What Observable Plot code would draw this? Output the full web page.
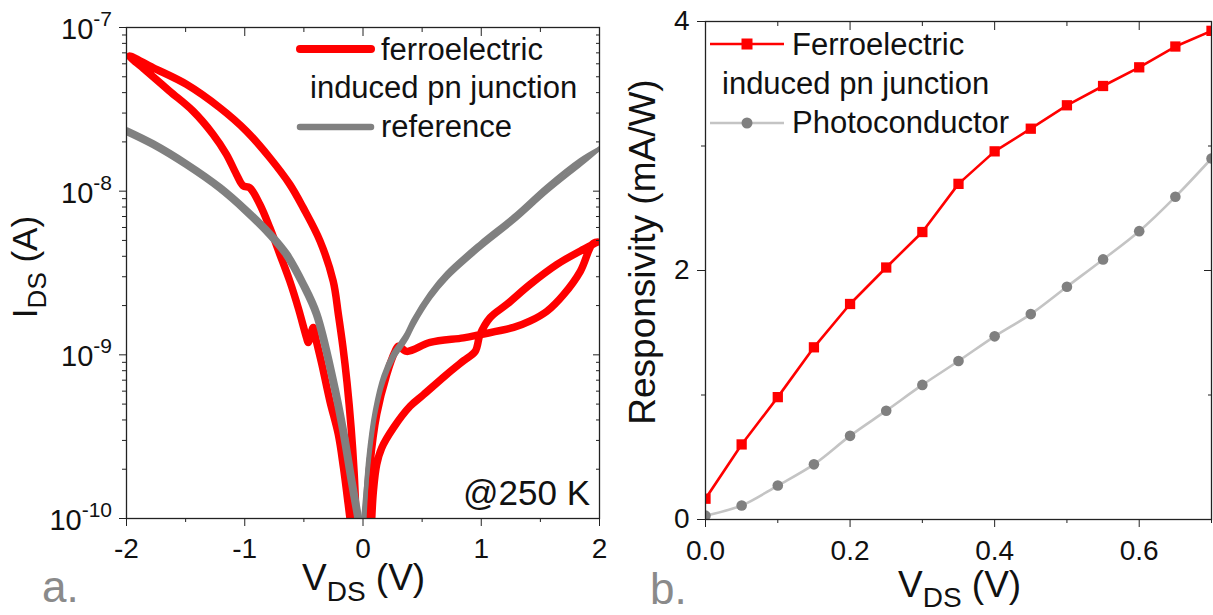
<!DOCTYPE html>
<html><head><meta charset="utf-8">
<script src="https://cdn.jsdelivr.net/npm/d3@7"></script>
<script src="https://cdn.jsdelivr.net/npm/@observablehq/plot@0.6"></script>
<style>
html,body{margin:0;padding:0;background:#fff;}
#page{position:relative;width:1213px;height:615px;overflow:hidden;}
#page svg{position:absolute;top:0;}
text{white-space:pre;}
</style></head><body><div id="page"></div>
<script>
// ---------- Panel a: I-V curves (log scale) ----------
// Ferroelectric-induced pn junction, negative sweep loop (V, A)
const ferroNegV = [-0.058,-0.075,-0.10,-0.135,-0.17,-0.209,-0.252,-0.364,-0.506,-0.619,-0.788,-0.986,-1.212,-1.494,-1.777,-1.975,
  -1.833,-1.636,-1.438,-1.269,-1.155,-1.071,-1.014,-0.958,-0.873,-0.788,-0.703,-0.619,-0.548,-0.477,-0.463,-0.421,-0.40,-0.35,-0.28,-0.209,-0.165,-0.125,-0.11];
const ferroNegI = [1.0e-10,1.91e-10,3.55e-10,6.76e-10,1.12e-9,1.78e-9,2.82e-9,4.97e-9,7.93e-9,1.10e-8,1.60e-8,2.33e-8,3.24e-8,4.50e-8,5.69e-8,6.70e-8,
  5.43e-8,4.09e-8,3.09e-8,2.23e-8,1.68e-8,1.27e-8,1.08e-8,1.05e-8,8.32e-9,5.98e-9,4.11e-9,2.82e-9,1.94e-9,1.27e-9,1.19e-9,1.47e-9,1.26e-9,8.9e-10,5.22e-10,3.27e-10,2.04e-10,1.22e-10,1.0e-10];
// Ferroelectric-induced pn junction, positive sweep loop
const ferroPosV = [0.03,0.059,0.116,0.201,0.271,0.30,0.37,0.568,0.85,0.992,1.274,1.415,1.557,1.698,1.839,1.938,1.985,
  1.839,1.641,1.415,1.218,1.076,0.99,0.949,0.85,0.709,0.511,0.398,0.257,0.158,0.116,0.088,0.074];
const ferroPosI = [1.0e-10,2.14e-10,4.33e-10,7.6e-10,1.05e-9,1.13e-9,1.05e-9,1.19e-9,1.27e-9,1.33e-9,1.47e-9,1.61e-9,1.85e-9,2.34e-9,3.25e-9,4.73e-9,4.9e-9,
  4.31e-9,3.57e-9,2.70e-9,2.04e-9,1.69e-9,1.33e-9,1.05e-9,9.2e-10,7.6e-10,5.7e-10,4.85e-10,3.58e-10,2.7e-10,2.14e-10,1.47e-10,1.0e-10];
// Reference device
const refNegV = [-2.0,-1.777,-1.494,-1.212,-0.986,-0.788,-0.647,-0.506,-0.392,-0.252,-0.167,-0.096,-0.04];
const refNegI = [2.33e-8,1.94e-8,1.46e-8,1.05e-8,7.57e-9,5.46e-9,4.11e-9,2.70e-9,1.77e-9,6.92e-10,3.42e-10,1.69e-10,1.0e-10];
const refPosFwdV = [0.003,0.045,0.102,0.172,0.257,0.314,0.370,0.426,0.568,0.709,0.992,1.274,1.557,1.839,2.0];
const refPosFwdI = [1.0e-10,2.14e-10,4.33e-10,6.92e-10,9.59e-10,1.10e-9,1.27e-9,1.53e-9,2.23e-9,2.96e-9,4.52e-9,6.58e-9,1.00e-8,1.46e-8,1.82e-8];
const refPosRevV = [2.0,1.839,1.557,1.274,0.992,0.709,0.568,0.426,0.370,0.314,0.257,0.172,0.102,0.045,0.012];
const refPosRevI = [1.82e-8,1.55e-8,1.07e-8,7.0e-9,4.8e-9,3.15e-9,2.37e-9,1.63e-9,1.35e-9,1.17e-9,1.02e-9,7.4e-10,4.6e-10,2.3e-10,1.0e-10];

const xTicksA = [-2,-1,0,1,2];
const xMinorA = [-1.5,-0.5,0.5,1.5];
const yExpA = [-10,-9,-8,-7];

// ---------- Panel b: responsivity ----------
const vdsB = [0,0.05,0.1,0.15,0.2,0.25,0.3,0.35,0.4,0.45,0.5,0.55,0.6,0.65,0.7];
const respFerro = [0.167,0.603,0.983,1.383,1.731,2.024,2.309,2.696,2.957,3.139,3.327,3.482,3.632,3.799,3.925];
const respPhoto = [0.031,0.113,0.273,0.443,0.672,0.874,1.081,1.273,1.471,1.650,1.870,2.089,2.316,2.592,2.900];
const xTicksB = [0,0.2,0.4,0.6];
const xMinorB = [0.1,0.3,0.5,0.7];
const yTicksB = [0,2,4];
const yMinorB = [1,3];

const RED = "#ff0000", GRAY = "#808080", LGRAY = "#c4c4c4", INK = "#111111", LABEL = "#8a8a8a";
const FONT = '"Liberation Sans", Arial, Helvetica, sans-serif';

const zip = (V, I) => V.map((v, k) => ({v, i: I[k]}));
const ferroNeg = zip(ferroNegV, ferroNegI);
const ferroPos = zip(ferroPosV, ferroPosI);
const refNeg = zip(refNegV, refNegI);
const refPosF = zip(refPosFwdV, refPosFwdI);
const refPosR = zip(refPosRevV, refPosRevI);
const yMajorA = yExpA.map(e => Math.pow(10, e));
const yMinorA = [];
yExpA.slice(0, -1).forEach(e => { for (let m = 2; m <= 9; m++) yMinorA.push(m * Math.pow(10, e)); });

const page = document.getElementById("page");
const none = () => "";

const left = Plot.plot({
  width: 610, height: 615,
  marginLeft: 126, marginRight: 11, marginTop: 27, marginBottom: 97,
  style: {fontFamily: FONT, fontSize: "28px", color: INK, background: "transparent", overflow: "visible"},
  x: {domain: [-2, 2], label: null},
  y: {type: "log", domain: [1e-10, 1e-7], label: null},
  marks: [
    Plot.line(ferroNeg, {x: "v", y: "i", stroke: RED, strokeWidth: 7.5, strokeLinejoin: "round", strokeLinecap: "round", curve: "catmull-rom", clip: true}),
    Plot.line(ferroPos, {x: "v", y: "i", stroke: RED, strokeWidth: 7.5, strokeLinejoin: "round", strokeLinecap: "round", curve: "catmull-rom", clip: true}),
    Plot.line(refNeg, {x: "v", y: "i", stroke: GRAY, strokeWidth: 8, strokeLinejoin: "round", curve: "catmull-rom", clip: true}),
    Plot.line(refPosF, {x: "v", y: "i", stroke: GRAY, strokeWidth: 4.4, curve: "catmull-rom", clip: true}),
    Plot.line(refPosR, {x: "v", y: "i", stroke: GRAY, strokeWidth: 4.4, curve: "catmull-rom", clip: true}),
    Plot.frame({stroke: "#222", strokeWidth: 1.3}),
    Plot.axisX({anchor: "bottom", ticks: xTicksA, tickSize: 8, tickPadding: 12, tickFormat: d => String(d), fontSize: 28, stroke: "#222"}),
    Plot.axisX({anchor: "bottom", ticks: xMinorA, tickSize: 4, tickFormat: none, stroke: "#222"}),
    Plot.axisX({anchor: "top", ticks: xTicksA, tickSize: -8, tickFormat: none, stroke: "#222"}),
    Plot.axisX({anchor: "top", ticks: xMinorA, tickSize: -4, tickFormat: none, stroke: "#222"}),
    Plot.axisY({anchor: "left", ticks: yMajorA, tickSize: 7, tickFormat: none, stroke: "#222"}),
    Plot.axisY({anchor: "left", ticks: yMinorA, tickSize: 4, tickFormat: none, stroke: "#222"}),
    Plot.axisY({anchor: "right", ticks: yMajorA, tickSize: -7, tickFormat: none, stroke: "#222"}),
    Plot.axisY({anchor: "right", ticks: yMinorA, tickSize: -4, tickFormat: none, stroke: "#222"})
  ]
});
left.style.left = "0px";
page.appendChild(left);

const right = Plot.plot({
  width: 603, height: 615,
  marginLeft: 95, marginRight: 2, marginTop: 21, marginBottom: 96,
  style: {fontFamily: FONT, fontSize: "28px", color: INK, background: "transparent", overflow: "visible"},
  x: {domain: [0, 0.7], label: null},
  y: {domain: [0, 4], label: null},
  marks: [
    Plot.line(vdsB, {x: d => d, y: (d, k) => respPhoto[k], stroke: LGRAY, strokeWidth: 2.6, curve: "catmull-rom", clip: true}),
    Plot.dot(vdsB, {x: d => d, y: (d, k) => respPhoto[k], r: 5.3, fill: GRAY, stroke: "none", clip: true}),
    Plot.line(vdsB, {x: d => d, y: (d, k) => respFerro[k], stroke: RED, strokeWidth: 2.6, clip: true}),
    Plot.dot(vdsB, {x: d => d, y: (d, k) => respFerro[k], symbol: "square", r: 5.8, fill: RED, stroke: "none", clip: true}),
    Plot.frame({stroke: "#222", strokeWidth: 1.3}),
    Plot.axisX({anchor: "bottom", ticks: xTicksB, tickSize: 8, tickPadding: 13, tickFormat: d3.format(".1f"), fontSize: 28, stroke: "#222"}),
    Plot.axisX({anchor: "bottom", ticks: xMinorB, tickSize: 4, tickFormat: none, stroke: "#222"}),
    Plot.axisX({anchor: "top", ticks: xTicksB, tickSize: -8, tickFormat: none, stroke: "#222"}),
    Plot.axisX({anchor: "top", ticks: xMinorB, tickSize: -4, tickFormat: none, stroke: "#222"}),
    Plot.axisY({anchor: "left", ticks: yTicksB, tickSize: 8, tickPadding: 8, tickFormat: d => String(d), fontSize: 28, stroke: "#222"}),
    Plot.axisY({anchor: "left", ticks: yMinorB, tickSize: 4, tickFormat: none, stroke: "#222"}),
    Plot.axisY({anchor: "right", ticks: yTicksB, tickSize: -8, tickFormat: none, stroke: "#222"}),
    Plot.axisY({anchor: "right", ticks: yMinorB, tickSize: -4, tickFormat: none, stroke: "#222"})
  ]
});
right.style.left = "610px";
page.appendChild(right);

// ---------- annotations (text, legends) ----------
function txt(svg, x, y, size, fill, parts, opts = {}) {
  const t = svg.append("text").attr("x", x).attr("y", y).attr("font-size", size)
    .attr("fill", fill).attr("font-family", FONT).attr("text-anchor", opts.anchor || "start");
  if (opts.rotate) t.attr("transform", `rotate(-90 ${x} ${y})`);
  parts.forEach(p => {
    const s = t.append("tspan").text(p.t);
    if (p.dy) s.attr("dy", p.dy);
    if (p.size) s.attr("font-size", p.size);
  });
  return t;
}
const L = d3.select(left), R = d3.select(right);
const yA = left.scale("y");
yMajorA.forEach((val, k) => {
  const py = yA.apply(val);
  txt(L, 112, py + 12, 29, INK, [{t: "10"}, {t: String(yExpA[k]), dy: -13, size: 21}], {anchor: "end"});
});
txt(L, 302, 590, 37, INK, [{t: "V"}, {t: "DS", dy: 11, size: 28}, {t: " (V)", dy: -11}]);
txt(L, 37, 267, 35, INK, [{t: "I"}, {t: "DS", dy: 9, size: 26}, {t: " (A)", dy: -9}], {anchor: "middle", rotate: true});
txt(L, 42, 602, 44, LABEL, [{t: "a."}]);
txt(L, 590, 505, 35, INK, [{t: "@250 K"}], {anchor: "end"});
// legend a
L.append("line").attr("x1", 300).attr("x2", 371).attr("y1", 49).attr("y2", 49)
  .attr("stroke", RED).attr("stroke-width", 8).attr("stroke-linecap", "round");
L.append("line").attr("x1", 300).attr("x2", 371).attr("y1", 127).attr("y2", 127)
  .attr("stroke", GRAY).attr("stroke-width", 6.5).attr("stroke-linecap", "round");
txt(L, 381, 60, 31, INK, [{t: "ferroelectric"}]);
txt(L, 310, 98, 31, INK, [{t: "induced pn junction"}]);
txt(L, 381, 137, 31, INK, [{t: "reference"}]);

// panel b texts
txt(R, 288, 597, 37, INK, [{t: "V"}, {t: "DS", dy: 10, size: 28}, {t: " (V)", dy: -10}]);
txt(R, 45, 252, 37, INK, [{t: "Responsivity (mA/W)"}], {anchor: "middle", rotate: true});
txt(R, 40, 604, 44, LABEL, [{t: "b."}]);
// legend b
R.append("line").attr("x1", 100).attr("x2", 174).attr("y1", 44).attr("y2", 44).attr("stroke", RED).attr("stroke-width", 2.6);
R.append("rect").attr("x", 137 - 5.5).attr("y", 44 - 5.5).attr("width", 11).attr("height", 11).attr("fill", RED);
R.append("line").attr("x1", 100).attr("x2", 174).attr("y1", 123).attr("y2", 123).attr("stroke", LGRAY).attr("stroke-width", 2.6);
R.append("circle").attr("cx", 137).attr("cy", 123).attr("r", 5.5).attr("fill", GRAY);
txt(R, 182, 55, 31, INK, [{t: "Ferroelectric"}]);
txt(R, 112, 94, 31, INK, [{t: "induced pn junction"}]);
txt(R, 182, 133, 31, INK, [{t: "Photoconductor"}]);
</script>
</body></html>
